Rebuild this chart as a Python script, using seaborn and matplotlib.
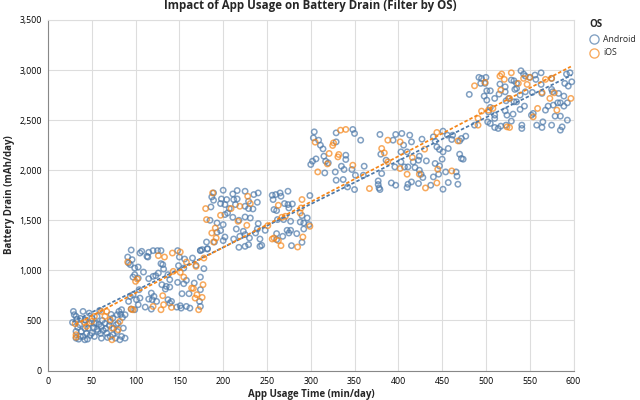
import matplotlib
matplotlib.use("Agg")
import matplotlib.pyplot as plt
from matplotlib.lines import Line2D
import pandas as pd
import seaborn as sns

# Daily app usage (min/day) and battery drain (mAh/day), per operating system.
android_usage = [
    29, 30, 28, 32, 40, 47, 59, 81, 88, 84, 79, 74, 71, 61, 55, 50, 42, 36, 32, 38, 46, 50, 53, 61, 67, 74, 82, 88, 86, 78,
    32, 35, 42, 45, 40, 57, 71, 77, 33, 37, 43, 47, 52, 56, 60, 63, 66, 70, 75, 80, 85, 62, 56, 48, 44, 37, 34, 84, 79, 68,
    53, 42, 58, 72, 65, 83,
    95, 91, 96, 105, 107, 113, 115, 120, 125, 129, 114, 129, 131, 132, 148, 150, 156, 165, 174, 182, 94, 92, 99, 103, 109,
    99, 103, 97, 115, 120, 123, 126, 137, 139, 149, 155, 169, 178, 174, 130, 135, 139, 134, 148, 155, 158, 167, 174, 104,
    97, 94, 105, 101, 92, 118, 121, 115, 119, 124, 137, 141, 153, 161, 173, 174, 162, 158, 151, 147, 152, 111, 103, 95, 99,
    118, 139,
    189, 187, 189, 186, 200, 211, 216, 225, 235, 240, 198, 204, 197, 202, 212, 216, 229, 239, 207, 214, 225, 229, 234, 211,
    218, 225, 231, 185, 193, 197, 193, 200, 202, 205, 215, 240, 239, 248, 223, 225, 219, 212, 202, 200, 181, 190, 182, 176,
    174, 218, 225, 229, 242, 242, 244, 230, 237, 256, 260, 265, 274, 266, 257, 270, 274, 279, 275, 258, 261, 299, 262, 269,
    277, 290, 296, 288, 292, 298, 292, 261, 273, 277, 268, 275, 284, 278, 290, 261,
    304, 303, 309, 311, 314, 329, 329, 348, 350, 357, 315, 317, 302, 306, 300, 340, 340, 335, 338, 347, 361, 351, 360, 316,
    328, 329, 337, 342, 350, 320,
    379, 394, 397, 404, 413, 415, 427, 406, 403, 410, 380, 386, 403, 424, 417, 423, 432, 442, 450, 457, 444, 447, 451, 440,
    442, 451, 456, 462, 461, 470, 472, 477, 470, 472, 474, 396, 407, 411, 419, 424, 426, 428, 447, 446, 440, 454, 466, 467,
    381, 377, 377, 378, 379, 392, 397, 410, 411, 415, 423, 437, 451, 457, 468,
    481, 492, 495, 500, 494, 499, 501, 505, 498, 501, 510, 516, 522, 522, 515, 529, 532, 535, 540, 543, 545, 550, 556, 563,
    557, 563, 553, 545, 535, 533, 539, 532, 526, 575, 590, 592, 596, 598, 594, 575, 576, 583, 589, 564, 523, 535, 544, 539,
    531, 522, 524, 505, 503, 510, 510, 502, 505, 510, 514, 517, 529, 523, 541, 541, 558, 564, 565, 554, 552, 568, 571, 577,
    582, 585, 593, 589, 575, 579, 585, 593, 587, 585, 487,
]
android_drain = [
    590, 557, 480, 540, 590, 573, 600, 590, 557, 607, 557, 523, 490, 440, 473, 523, 507, 457, 390, 390, 423, 373, 340, 323, 373, 357, 307, 323, 423, 457,
    323, 313, 307, 313, 340, 390, 340, 323, 510, 520, 500, 470, 430, 410, 370, 400, 420, 450, 420, 470, 530, 500, 540, 350, 370, 340, 430, 340, 390, 330,
    470, 420, 460, 560, 470, 560,
    1203, 1133, 1107, 1173, 1190, 1140, 1180, 1197, 1197, 1197, 1133, 1067, 1057, 1013, 1197, 1133, 1113, 1123, 1200, 1217, 1057, 1073, 1023, 1033, 983,
    957, 923, 933, 917, 940, 947, 973, 957, 907, 1047, 1023, 1050, 1017, 933, 857, 840, 833, 813, 880, 867, 900, 873, 807, 807,
    757, 740, 723, 707, 690, 773, 740, 713, 707, 690, 707, 690, 767, 767, 690, 640, 623, 640, 647, 633, 623, 633, 657, 613, 607,
    613, 673,
    1773, 1733, 1700, 1633, 1800, 1763, 1797, 1790, 1757, 1773, 1713, 1707, 1667, 1657, 1707, 1713, 1690, 1680, 1617, 1657, 1640, 1617, 1613, 1530,
    1500, 1533, 1523, 1500, 1473, 1397, 1380, 1457, 1557, 1573, 1413, 1467, 1413, 1400, 1390, 1357, 1340, 1313, 1333, 1297, 1283, 1283, 1213, 1207,
    1197, 1230, 1240, 1257, 1313, 1240, 1250, 1323, 1373, 1750, 1757, 1773, 1790, 1740, 1707, 1667, 1657, 1663, 1623, 1607, 1597, 1747, 1507, 1507,
    1490, 1547, 1523, 1483, 1473, 1457, 1413, 1367, 1400, 1400, 1340, 1373, 1367, 1247, 1280, 1307,
    2383, 2323, 2300, 2250, 2213, 2373, 2283, 2407, 2367, 2300, 2140, 2090, 2090, 2113, 2057, 2150, 2107, 2040, 2007, 2007, 2040, 1950, 1950, 1973,
    1983, 1900, 1907, 1833, 1807, 2073,
    2357, 2300, 2357, 2367, 2350, 2283, 2310, 2250, 2183, 2183, 2160, 2100, 2083, 2140, 2083, 2100, 2093, 2067, 2110, 2217, 2233, 2207, 2183, 2333,
    2290, 2390, 2350, 2350, 2307, 2293, 2317, 2340, 2160, 2117, 2110, 2033, 2033, 2033, 2027, 2000, 1960, 1927, 2043, 1960, 1933, 1983, 1983, 1940,
    1967, 1893, 1857, 1823, 1807, 1873, 1850, 1827, 1860, 1883, 1867, 1850, 1810, 1877, 1860,
    2757, 2927, 2917, 2927, 2867, 2867, 2793, 2793, 2740, 2700, 2717, 2860, 2833, 2783, 2760, 2900, 2893, 2867, 2993, 2960, 2940, 2927, 2950, 2973,
    2907, 2857, 2777, 2783, 2817, 2807, 2750, 2683, 2717, 2917, 2867, 2960, 2973, 2883, 2840, 2807, 2783, 2767, 2740, 2767, 2693, 2683, 2640, 2607,
    2560, 2593, 2550, 2627, 2583, 2550, 2517, 2483, 2467, 2427, 2417, 2440, 2490, 2450, 2450, 2417, 2450, 2427, 2483, 2567, 2550, 2600, 2640, 2650,
    2673, 2673, 2673, 2640, 2450, 2540, 2540, 2500, 2433, 2400, 2450,
]
ios_usage = [
    31, 42, 53, 61, 67, 71, 65, 32, 32, 73, 82, 80, 73, 44, 50,
    91, 126, 133, 142, 151, 158, 169, 102, 100, 143, 151, 155, 166, 177, 164, 170, 176, 168, 131, 132, 129, 120, 141, 172, 95, 97,
    188, 228, 231, 219, 209, 180, 181, 197, 191, 187, 192, 189, 178, 227, 217, 263, 290, 289, 288, 271, 267, 251, 299, 291, 256, 263, 266, 285, 258,
    305, 326, 325, 334, 340, 321, 332, 331, 319, 348, 308,
    388, 402, 381, 384, 416, 430, 444, 468, 402, 410, 445, 424, 431, 444, 461, 367, 388,
    487, 516, 518, 521, 529, 543, 550, 499, 517, 537, 547, 568, 575, 573, 578, 581, 597, 559, 554, 524, 527, 491, 491, 495, 503, 508, 527, 564,
]
ios_drain = [
    467, 480, 540, 590, 590, 507, 540, 357, 333, 307, 490, 407, 423, 440, 490,
    1083, 1147, 1133, 1173, 1183, 1083, 1040, 913, 890, 990, 980, 933, 820, 857, 823, 757, 730, 723, 747, 657, 607, 640, 630, 607, 613, 607,
    1773, 1740, 1667, 1640, 1617, 1617, 1507, 1550, 1423, 1373, 1323, 1283, 1123, 1450, 1490, 1650, 1707, 1623, 1573, 1540, 1530, 1447, 1440, 1333, 1313, 1297, 1247, 1233, 1323,
    2280, 2273, 2247, 2400, 2407, 2167, 2157, 2133, 2063, 2050, 1983,
    2300, 2283, 2217, 2173, 2127, 2210, 2377, 2293, 2017, 1960, 2010, 1960, 1823, 1873, 1993, 1817, 2083,
    2843, 2940, 2960, 2907, 2973, 2917, 2927, 2877, 2800, 2867, 2857, 2907, 2917, 2717, 2773, 2600, 2717, 2617, 2533, 2433, 2427, 2517, 2450, 2590, 2600, 2617, 2717, 2777,
]
x_ticks = list(range(0, 601, 50))
y_ticks = list(range(0, 3501, 500))
series_names = ["Android", "iOS"]
series_colors = ["#4c78a8", "#f58518"]

sns.set_theme(style="white")
plt.rcParams["font.family"] = ["Open Sans", "Noto Sans", "DejaVu Sans"]

frames = {
    "Android": pd.DataFrame({"usage": android_usage, "drain": android_drain}),
    "iOS": pd.DataFrame({"usage": ios_usage, "drain": ios_drain}),
}

fig = plt.figure(figsize=(6.4, 4.0), dpi=100)
ax = fig.add_axes([48 / 640, 1 - 370.5 / 400, 525.5 / 640, 350.5 / 400])

for name, color in zip(series_names, series_colors):
    rgba = matplotlib.colors.to_rgba(color, 0.7)
    sns.scatterplot(data=frames[name], x="usage", y="drain", ax=ax, s=15, marker="o",
                    linewidth=1.1, legend=False, zorder=3, clip_on=False)
    points = ax.collections[-1]
    points.set_facecolor("none")
    points.set_edgecolor(rgba)

# Least-squares trend per operating system, dashed, above the points.
for name, color in zip(series_names, series_colors):
    sns.regplot(data=frames[name], x="usage", y="drain", ax=ax, scatter=False, ci=None,
                truncate=True, color=color,
                line_kws={"linewidth": 1.25, "linestyle": (0, (2.0, 1.2)), "zorder": 4})

ax.set_xlim(0, 600)
ax.set_ylim(0, 3500)
ax.set_xticks(x_ticks)
ax.set_yticks(y_ticks)
ax.set_yticklabels([f"{v:,}" for v in y_ticks])
ax.grid(True, color="#dddddd", linewidth=0.8)
ax.set_axisbelow(True)

for side in ("top", "right"):
    ax.spines[side].set_color("#dddddd")
    ax.spines[side].set_linewidth(0.8)
for side in ("left", "bottom"):
    ax.spines[side].set_color("#888888")
    ax.spines[side].set_linewidth(0.8)
ax.tick_params(axis="both", length=3.2, width=0.7, color="#888888", labelsize=6.3,
               labelcolor="#000000", pad=1.2)

ax.set_xlabel("")
ax.set_ylabel("")
fig.text(311 / 640, 1 - 394 / 400, "App Usage Time (min/day)", ha="center", va="center",
         fontsize=7.0, fontweight="bold")
fig.text(10 / 640, 1 - 195 / 400, "Battery Drain (mAh/day)", ha="center", va="center",
         rotation=90, fontsize=7.0, fontweight="bold")
fig.text(310.5 / 640, 1 - 5 / 400, "Impact of App Usage on Battery Drain (Filter by OS)",
         ha="center", va="center", fontsize=8.3, fontweight="bold")

# Legend placed by hand in the right margin.
fig.text(589.3 / 640, 1 - 24.3 / 400, "OS", ha="left", va="center", fontsize=7.0, fontweight="bold")
for row, (name, color) in enumerate(zip(series_names, series_colors)):
    y_px = 39 + row * 13.7
    handle = Line2D([594.3 / 640], [1 - y_px / 400], transform=fig.transFigure, marker="o",
                    markersize=6.6, markerfacecolor="none", markeredgewidth=0.95,
                    markeredgecolor=matplotlib.colors.to_rgba(color, 0.7), linestyle="none")
    fig.add_artist(handle)
    fig.text(603 / 640, 1 - y_px / 400, name, ha="left", va="center", fontsize=6.3)

fig.savefig("out.png", dpi=100)
